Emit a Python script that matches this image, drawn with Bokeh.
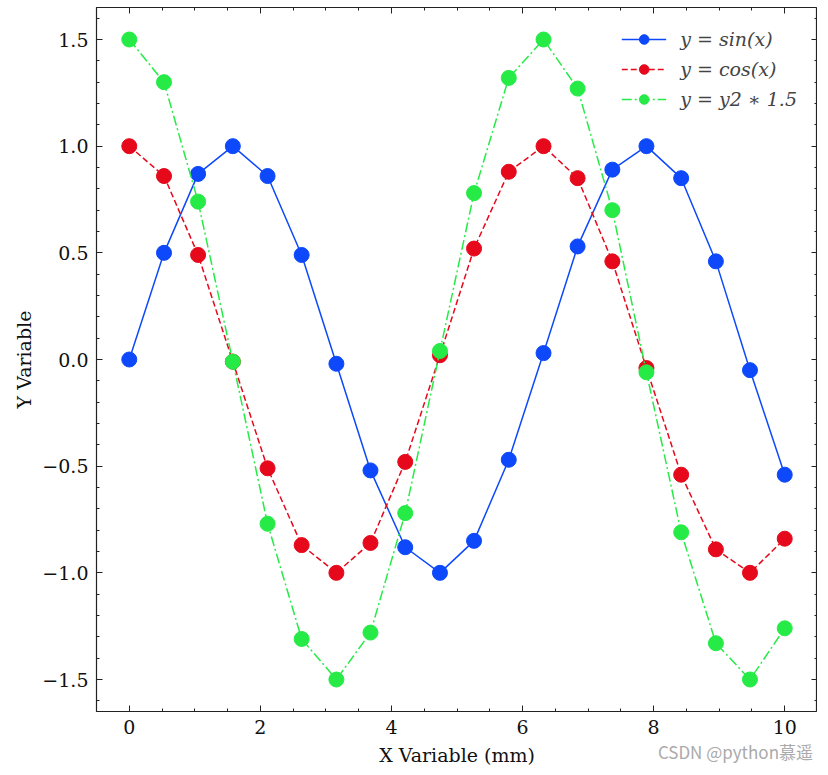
from bokeh.plotting import figure
from bokeh.models import LinearAxis, FixedTicker, CustomJSTickFormatter, Range1d, Div
from bokeh.layouts import column
from bokeh.embed import file_html
from bokeh.resources import INLINE

x = [0.0, 0.53, 1.05, 1.58, 2.11, 2.63, 3.16, 3.68, 4.21, 4.74,
     5.26, 5.79, 6.32, 6.84, 7.37, 7.89, 8.42, 8.95, 9.47, 10.0]
y_sin = [0.00, 0.50, 0.87, 1.00, 0.86, 0.49, -0.02, -0.52, -0.88, -1.00,
         -0.85, -0.47, 0.03, 0.53, 0.89, 1.00, 0.85, 0.46, -0.05, -0.54]
y_cos = [1.00, 0.86, 0.49, -0.01, -0.51, -0.87, -1.00, -0.86, -0.48, 0.02,
         0.52, 0.88, 1.00, 0.85, 0.46, -0.04, -0.54, -0.89, -1.00, -0.84]
y_cos15 = [1.50, 1.30, 0.74, -0.01, -0.77, -1.31, -1.50, -1.28, -0.72, 0.04,
           0.78, 1.32, 1.50, 1.27, 0.70, -0.06, -0.81, -1.33, -1.50, -1.26]

labels = ["y = sin(x)", "y = cos(x)", "y = y2 \u2217 1.5"]
colors = ["#0d49fb", "#e6091c", "#26eb47"]
dashes = ["solid", "6 3", "10 3 2 3"]

x_major = [0, 2, 4, 6, 8, 10]
x_minor = [v * 0.5 for v in range(-1, 22)]
y_major = [-1.5, -1.0, -0.5, 0.0, 0.5, 1.0, 1.5]
y_minor = [round(-1.6 + 0.1 * i, 2) for i in range(33)]

watermark = "CSDN @python\u6155\u9065"

FONT = "DejaVu Serif"
FS = "19px"

fig = figure(frame_width=721, frame_height=704, output_backend="svg",
             toolbar_location=None, x_range=Range1d(-0.5, 10.5),
             y_range=Range1d(-1.65, 1.65),
             min_border_left=96, min_border_top=7, min_border_right=0,
             min_border_bottom=0)
fig.grid.visible = False
fig.outline_line_color = "#222222"
fig.outline_line_width = 1.2
fig.background_fill_color = "white"

for ys, lab, c, d in zip([y_sin, y_cos, y_cos15], labels, colors, dashes):
    fig.line(x, ys, line_color=c, line_width=1.5, line_dash=d, legend_label=lab)
    fig.scatter(x, ys, size=15, fill_color=c, line_color=c, legend_label=lab)

fmt_y = CustomJSTickFormatter(code="return tick.toFixed(1).replace('-', '\u2212');")
fmt_x = CustomJSTickFormatter(code="return tick.toFixed(0).replace('-', '\u2212');")
fmt_none = CustomJSTickFormatter(code="return '';")

def style(ax, ticks, minor, fmt):
    ax.ticker = FixedTicker(ticks=ticks, minor_ticks=minor)
    ax.formatter = fmt
    ax.major_tick_in = 6
    ax.major_tick_out = 0
    ax.minor_tick_in = 3
    ax.minor_tick_out = 0
    ax.major_tick_line_color = "#222222"
    ax.minor_tick_line_color = "#222222"
    ax.axis_line_color = None
    ax.major_label_text_font = FONT
    ax.major_label_text_font_size = FS
    ax.major_label_text_color = "#111111"
    ax.axis_label_text_font = FONT
    ax.axis_label_text_font_size = FS
    ax.axis_label_text_font_style = "normal"
    ax.axis_label_text_color = "#111111"

style(fig.xaxis[0], x_major, x_minor, fmt_x)
style(fig.yaxis[0], y_major, y_minor, fmt_y)
fig.xaxis[0].axis_label = "X Variable (mm)"
fig.yaxis[0].axis_label = "Y Variable"
fig.xaxis[0].major_label_standoff = 8
fig.yaxis[0].major_label_standoff = 8
fig.xaxis[0].axis_label_standoff = 7
fig.yaxis[0].axis_label_standoff = 4

top = LinearAxis()
right = LinearAxis()
style(top, x_major, x_minor, fmt_none)
style(right, y_major, y_minor, fmt_none)
for a in (top, right):
    a.major_label_standoff = 0
    a.axis_label_standoff = 0
fig.add_layout(top, "above")
fig.add_layout(right, "right")

lg = fig.legend[0]
lg.location = "top_right"
lg.border_line_alpha = 0
lg.background_fill_alpha = 0
lg.label_text_font = FONT
lg.label_text_font_style = "italic"
lg.label_text_font_size = FS
lg.glyph_width = 45
lg.glyph_height = 24
lg.label_standoff = 14
lg.spacing = 6
lg.margin = 10
lg.padding = 10

wm = Div(text=watermark, width=813, height=22, margin=(-27, 0, 0, 0),
         styles={"color": "#aaaaaa", "font-family": "Noto Sans CJK SC",
                 "font-size": "17px", "text-align": "right",
                 "line-height": "22px"})

p = column(fig, wm, spacing=0)

open("out.html", "w").write(file_html(p, INLINE))
